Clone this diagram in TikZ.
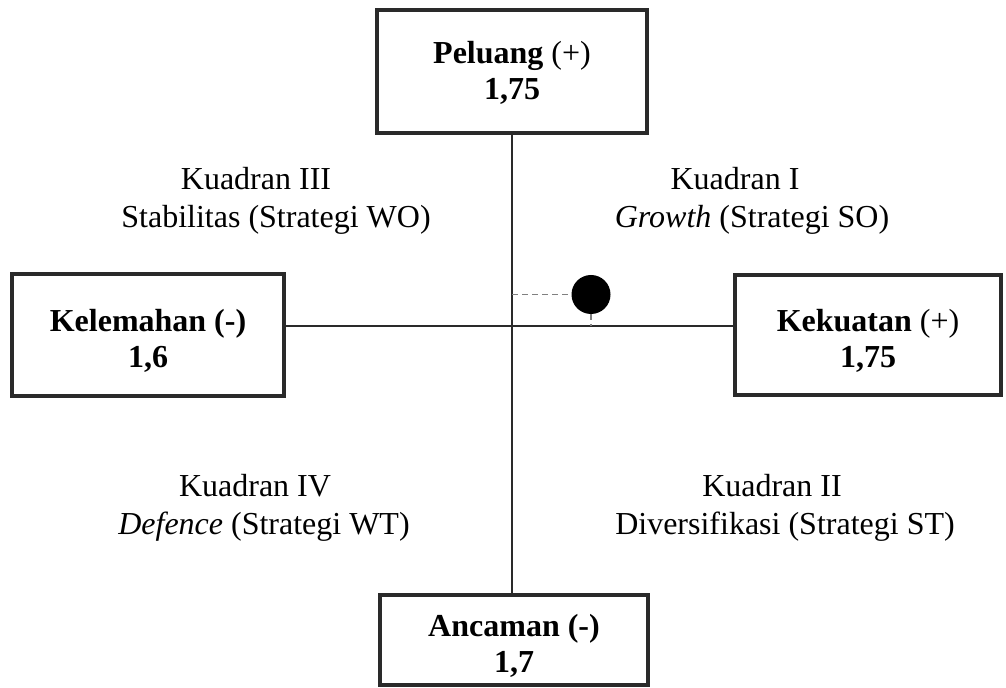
\documentclass[tikz,border=0pt]{standalone}
\usepackage{fontspec}
\setmainfont{Liberation Serif}
\usepackage{xcolor}
\definecolor{garis}{HTML}{2A2A2A}
\definecolor{putus}{HTML}{808080}

\begin{document}
\begin{tikzpicture}[x=0.5pt,y=-0.5pt,
    kotak/.style={draw=garis,line width=2pt,fill=white,align=center,inner sep=0pt,
        font=\fontsize{16}{18}\selectfont},
    sumbu/.style={draw=garis,line width=0.9pt},
    bantu/.style={draw=putus,line width=0.9pt,dash pattern=on 3pt off 2pt},
    teks/.style={font=\fontsize{16}{17}\selectfont,anchor=base}]
            \useasboundingbox (0,0) rectangle (1006,688);
            \coordinate (pusat) at (512,326);
            % kotak faktor
            \node (peluang) at (512,71.5) [kotak,minimum width=135pt,minimum height=61.5pt]
                {\rule{0pt}{12.5pt}\textbf{Peluang} (+)\\ \textbf{1,75}};
            \node (kelemahan) at (148,335) [kotak,minimum width=136pt,minimum height=61pt]
                {\rule{0pt}{17pt}\textbf{Kelemahan (-)}\\ \textbf{1,6}};
            \node (kekuatan) at (868,335) [kotak,minimum width=133pt,minimum height=60pt]
                {\rule{0pt}{17pt}\textbf{Kekuatan} (+)\\ \textbf{1,75}};
            \node (ancaman) at (514,640) [kotak,minimum width=134pt,minimum height=45pt]
                {\rule{0pt}{17pt}\textbf{Ancaman (-)}\\ \textbf{1,7}};
            % sumbu
            \draw[sumbu] (peluang.south) -- (peluang.south |- ancaman.north);
            \draw[sumbu] (kelemahan.east |- pusat) -- (kekuatan.west |- pusat);
            % posisi
            \node (titik) at (591,294.5) [circle,fill=black,inner sep=0pt,minimum size=19.5pt] {};
            \draw[bantu] (pusat |- titik) -- (titik.west);
            \draw[bantu] (titik.south) -- (titik |- pusat);
            % kuadran
            \node (k3a) at (256,190) [teks] {Kuadran III};
            \node (k3b) at (276,228) [teks] {Stabilitas (Strategi WO)};
            \node (k1a) at (735,190) [teks] {Kuadran I};
            \node (k1b) at (752,228) [teks] {\textit{Growth} (Strategi SO)};
            \node (k4a) at (255,497) [teks] {Kuadran IV};
            \node (k4b) at (264,535) [teks] {\textit{Defence} (Strategi WT)};
            \node (k2a) at (772,497) [teks] {Kuadran II};
            \node (k2b) at (785,535) [teks] {Diversifikasi (Strategi ST)};
        \end{tikzpicture}
\end{document}
